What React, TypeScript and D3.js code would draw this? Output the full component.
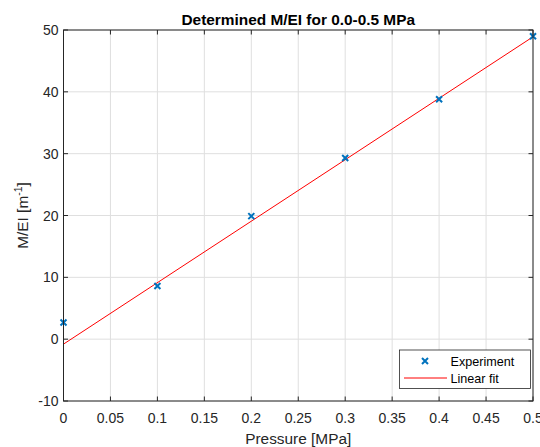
import React from "react";
import * as d3 from "d3";

const pressure = [0, 0.1, 0.2, 0.3, 0.4, 0.5];
const experiment = [2.7, 8.6, 19.9, 29.3, 38.8, 49.0];
const fitX = [0, 0.5];
const fitY = [-0.8, 48.9];
const xTicks = [0, 0.05, 0.1, 0.15, 0.2, 0.25, 0.3, 0.35, 0.4, 0.45, 0.5];
const yTicks = [-10, 0, 10, 20, 30, 40, 50];

export default function App() {
  const W = 540, H = 447;
  const L = 63.5, R = 533, T = 30, B = 401;
  const x = d3.scaleLinear().domain([0, 0.5]).range([L, R]);
  const y = d3.scaleLinear().domain([-10, 50]).range([B, T]);
  const line = d3.line<number>().x((_, i) => x(fitX[i])).y((d) => y(d));
  const font = "'Liberation Sans', Arial, Helvetica, sans-serif";
  const axisCol = "#262626";
  const tickLen = 4.5;
  const ms = 3;
  const cross = (cx: number, cy: number) =>
    `M${cx - ms},${cy - ms}L${cx + ms},${cy + ms}M${cx - ms},${cy + ms}L${cx + ms},${cy - ms}`;
  return (
    <svg width={W} height={H} style={{ position: "absolute", left: 0, top: 0, fontFamily: font }}>
      <rect x={0} y={0} width={W} height={H} fill="#fff" />
      {/* grid */}
      {xTicks.map((t, i) => (
        <line key={"gx" + i} x1={x(t)} x2={x(t)} y1={T} y2={B} stroke="#dfdfdf" strokeWidth={1} />
      ))}
      {yTicks.map((t, i) => (
        <line key={"gy" + i} x1={L} x2={R} y1={y(t)} y2={y(t)} stroke="#dfdfdf" strokeWidth={1} />
      ))}
      {/* fit line */}
      <path d={line(fitY) || ""} fill="none" stroke="#ff0000" strokeWidth={1} />
      {/* markers */}
      {pressure.map((p, i) => (
        <path key={"m" + i} d={cross(x(p), y(experiment[i]))} stroke="#0072BD" strokeWidth={2} fill="none" />
      ))}
      {/* box */}
      <rect x={L} y={T} width={R - L} height={B - T} fill="none" stroke={axisCol} strokeWidth={1} />
      {/* ticks */}
      {xTicks.map((t, i) => (
        <g key={"tx" + i}>
          <line x1={x(t)} x2={x(t)} y1={B} y2={B - tickLen} stroke={axisCol} />
          <line x1={x(t)} x2={x(t)} y1={T} y2={T + tickLen} stroke={axisCol} />
          <text x={x(t)} y={B + 21.5} textAnchor="middle" fontSize={14} fill={axisCol}>
            {String(t)}
          </text>
        </g>
      ))}
      {yTicks.map((t, i) => (
        <g key={"ty" + i}>
          <line x1={L} x2={L + tickLen} y1={y(t)} y2={y(t)} stroke={axisCol} />
          <line x1={R} x2={R - tickLen} y1={y(t)} y2={y(t)} stroke={axisCol} />
          <text x={L - 5} y={y(t) + 5} textAnchor="end" fontSize={14} fill={axisCol}>
            {String(t)}
          </text>
        </g>
      ))}
      {/* labels */}
      <text x={(L + R) / 2} y={444} textAnchor="middle" fontSize={15.4} fill={axisCol}>
        Pressure [MPa]
      </text>
      <text transform={`translate(28,${(T + B) / 2}) rotate(-90)`} textAnchor="middle" fontSize={15.4} fill={axisCol}>
        M/EI [m<tspan dy={-6} fontSize={10.5}>-1</tspan><tspan dy={6}>]</tspan>
      </text>
      <text x={(L + R) / 2} y={25} textAnchor="middle" fontSize={15.4} fontWeight="bold" fill="#000">
        Determined M/EI for 0.0-0.5 MPa
      </text>
      {/* legend */}
      <rect x={399.5} y={350} width={131} height={38.5} fill="#fff" stroke={axisCol} strokeWidth={0.8} />
      <path d={cross(425, 361)} stroke="#0072BD" strokeWidth={2} fill="none" />
      <text x={450.5} y={366} fontSize={12.6} fill="#000">Experiment</text>
      <line x1={404} x2={447} y1={378} y2={378} stroke="#ff0000" strokeWidth={1} />
      <text x={450.5} y={383} fontSize={12.6} fill="#000">Linear fit</text>
    </svg>
  );
}
